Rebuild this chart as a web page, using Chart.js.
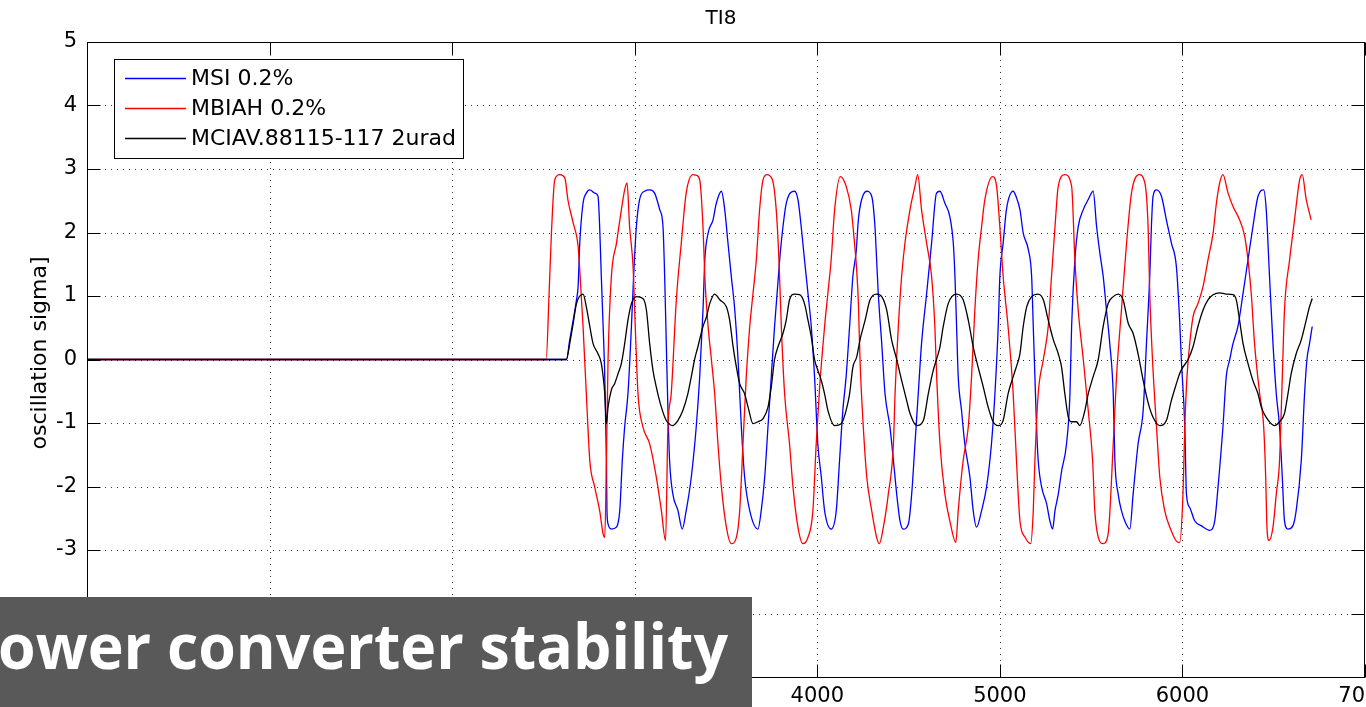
<!DOCTYPE html>
<html>
<head>
<meta charset="utf-8">
<title>TI8</title>
<script src="https://cdn.jsdelivr.net/npm/chart.js@4.4.1/dist/chart.umd.min.js"></script>
<style>
    html, body { margin: 0; padding: 0; background: #fff; overflow: hidden; }
    #plot { display: block; }
</style>
</head>
<body>
<canvas id="plot" width="1366" height="707"></canvas>
<script>
// ==================== DATA ====================
const plotTitle = 'TI8';
const yAxisLabel = 'oscillation sigma]';
const overlayText = 'ower converter stability';

const xTicks = [0, 1000, 2000, 3000, 4000, 5000, 6000, 7000];
const yTicks = [-5, -4, -3, -2, -1, 0, 1, 2, 3, 4, 5];

const seriesNames = ['MSI 0.2%', 'MBIAH 0.2%', 'MCIAV.88115-117 2urad'];
const seriesColors = ['#0000ff', '#ff0000', '#000000'];

// MSI 0.2% (blue)
const msiX = [0, 2626, 2644, 2663, 2681, 2690, 2699, 2717, 2735, 2754, 2781, 2799, 2808, 2817, 2827, 2836, 2845, 2848, 2854, 2872,
    2900, 2918, 2932, 2945, 2963, 2982, 2994, 3009, 3027, 3054, 3082, 3109, 3137, 3155, 3164, 3173, 3182, 3191, 3209, 3237,
    3260, 3282, 3310, 3337, 3356, 3374, 3384, 3402, 3429, 3447, 3475, 3493, 3511, 3529, 3548, 3566, 3584, 3602, 3630, 3675,
    3693, 3712, 3730, 3748, 3766, 3794, 3812, 3830, 3876, 3894, 3912, 3930, 3949, 3967, 3985, 4003, 4022, 4040, 4076, 4104,
    4122, 4140, 4158, 4177, 4195, 4213, 4225, 4243, 4271, 4298, 4316, 4325, 4334, 4353, 4371, 4398, 4417, 4435, 4453, 4471,
    4499, 4517, 4535, 4553, 4571, 4599, 4626, 4653, 4672, 4699, 4726, 4745, 4754, 4763, 4772, 4790, 4808, 4836, 4854, 4872,
    4900, 4927, 4954, 4973, 4991, 5000, 5018, 5036, 5073, 5091, 5110, 5128, 5156, 5174, 5183, 5192, 5201, 5210, 5229, 5256,
    5274, 5289, 5302, 5320, 5338, 5365, 5384, 5393, 5411, 5429, 5457, 5484, 5511, 5530, 5548, 5566, 5584, 5602, 5621, 5630,
    5648, 5666, 5684, 5712, 5730, 5757, 5785, 5803, 5821, 5830, 5839, 5858, 5885, 5912, 5940, 5967, 5985, 5994, 6013, 6022,
    6040, 6067, 6104, 6149, 6177, 6195, 6222, 6240, 6259, 6277, 6304, 6332, 6359, 6386, 6414, 6445, 6459, 6477, 6496, 6514,
    6532, 6547, 6559, 6578, 6605, 6623, 6651, 6669, 6682, 6696, 6711];
const msiY = [0, 0, 0.31, 0.62, 0.94, 1.15, 1.83, 2.46, 2.62, 2.67, 2.62, 2.57, 2.09, 1.31, 0.52, -0.27, -1.59, -2.38, -2.59, -2.67,
    -2.64, -2.38, -1.59, -1.06, -0.54, 0.52, 1.31, 2.09, 2.52, 2.65, 2.67, 2.62, 2.36, 2.09, 1.31, 0.25, -0.8, -1.59, -2.12, -2.38,
    -2.67, -2.38, -1.85, -1.06, -0.27, 0.78, 1.57, 1.99, 2.2, 2.46, 2.65, 2.36, 1.83, 1.31, 0.78, 0, -1.06, -1.85, -2.38, -2.67,
    -2.38, -1.85, -1.06, -0.27, 0.52, 1.57, 2.09, 2.46, 2.65, 2.52, 2.09, 1.57, 1.04, 0.52, -0.27, -1.33, -1.85, -2.38, -2.67, -2.38,
    -1.59, -0.8, -0.27, 0.52, 1.31, 1.7, 2.2, 2.52, 2.65, 2.57, 2.09, 1.57, 1.04, 0.25, -0.54, -1.06, -1.59, -2.12, -2.54, -2.67,
    -2.59, -2.12, -1.33, -0.54, 0.25, 1.04, 1.83, 2.62, 2.65, 2.46, 2.25, 1.83, 1.31, 0.52, -0.27, -0.8, -1.33, -1.85, -2.38, -2.64,
    -2.38, -2.01, -1.33, -0.54, 0.52, 1.31, 1.83, 2.36, 2.65, 2.55, 2.36, 1.99, 1.73, 1.31, 0.52, -0.27, -1.06, -1.59, -2.01, -2.27,
    -2.54, -2.67, -2.38, -2.12, -1.76, -1.33, -0.54, 0.52, 1.57, 2.09, 2.36, 2.52, 2.65, 2.09, 1.67, 1.31, 0.78, 0.25, -0.54, -1.59,
    -2.12, -2.38, -2.54, -2.67, -2.12, -1.33, -0.8, 0.25, 1.31, 2.09, 2.57, 2.67, 2.57, 2.2, 1.83, 1.46, 0.6, 0, -1.06, -2.12,
    -2.33, -2.54, -2.62, -2.69, -2.54, -2.01, -1.06, -0.27, 0, 0.25, 0.52, 1.04, 1.57, 2.09, 2.57, 2.67, 2.36, 1.31, 0.25, -0.54,
    -1.06, -1.85, -2.54, -2.67, -2.62, -2.38, -1.59, -0.54, 0, 0.25, 0.52];

// MBIAH 0.2% (red)
const mbiahX = [0, 2515, 2531, 2544, 2562, 2590, 2617, 2635, 2663, 2690, 2699, 2717, 2735, 2754, 2781, 2808, 2827, 2836, 2845, 2854,
    2872, 2900, 2927, 2945, 2958, 2972, 2991, 3003, 3018, 3045, 3082, 3118, 3146, 3169, 3182, 3200, 3228, 3255, 3282, 3319,
    3338, 3356, 3374, 3384, 3402, 3420, 3438, 3456, 3475, 3502, 3529, 3557, 3575, 3593, 3611, 3630, 3648, 3666, 3684, 3703,
    3724, 3754, 3775, 3790, 3803, 3821, 3848, 3867, 3894, 3921, 3949, 3976, 3994, 4013, 4040, 4058, 4076, 4095, 4126, 4158,
    4186, 4204, 4216, 4225, 4234, 4252, 4271, 4298, 4325, 4340, 4362, 4389, 4417, 4426, 4444, 4462, 4480, 4508, 4535, 4550,
    4571, 4599, 4626, 4644, 4654, 4672, 4699, 4726, 4759, 4772, 4799, 4827, 4845, 4863, 4881, 4900, 4918, 4960, 4982, 5000,
    5018, 5045, 5073, 5091, 5110, 5138, 5169, 5183, 5192, 5210, 5238, 5265, 5283, 5302, 5320, 5356, 5393, 5411, 5429, 5457,
    5484, 5508, 5520, 5539, 5566, 5593, 5621, 5639, 5666, 5694, 5721, 5763, 5794, 5812, 5821, 5836, 5858, 5876, 5903, 5931,
    5976, 5985, 6003, 6013, 6025, 6040, 6058, 6085, 6113, 6140, 6168, 6186, 6204, 6222, 6250, 6277, 6313, 6341, 6359, 6377,
    6395, 6423, 6445, 6456, 6463, 6474, 6496, 6514, 6532, 6547, 6559, 6587, 6614, 6642, 6656, 6678, 6705];
const mbiahY = [0, 0, 1.04, 2.0, 2.83, 2.91, 2.86, 2.5, 2.15, 1.78, 1.41, 0.52, -0.54, -1.59, -2.01, -2.38, -2.75, -2.8, -1.59, 0,
    1.3, 1.83, 2.36, 2.67, 2.78, 2.09, 1.46, 0.52, -0.54, -1.06, -1.33, -1.85, -2.38, -2.85, -1.06, -0.54, 0.94, 1.83, 2.62, 2.91,
    2.9, 2.83, 2.09, 1.31, 0.52, 0, -0.54, -1.33, -2.01, -2.64, -2.9, -2.8, -2.38, -1.33, -0.27, 0.52, 1.04, 1.57, 2.36, 2.83,
    2.91, 2.83, 2.36, 1.57, 0.52, -0.54, -1.33, -2.01, -2.64, -2.9, -2.8, -2.38, -1.33, -0.43, 0.52, 1.04, 1.57, 2.36, 2.88, 2.73,
    2.36, 1.83, 1.4, 0.9, 0, -1.06, -1.85, -2.38, -2.8, -2.9, -2.64, -2.12, -1.33, -0.54, 0.52, 1.31, 1.83, 2.36, 2.73, 2.91,
    2.36, 1.83, 1.31, 0.52, -0.27, -1.33, -2.12, -2.54, -2.88, -2.38, -1.59, -1.06, -0.27, 0.78, 1.57, 2.09, 2.52, 2.88, 2.73, 2.09,
    1.31, 0.52, -0.54, -1.59, -2.54, -2.8, -2.9, -2.38, -1.59, -0.54, 0, 0.52, 1.31, 2.09, 2.73, 2.91, 2.73, 1.57, 0.78, 0,
    -0.8, -1.59, -2.38, -2.8, -2.9, -2.75, -1.33, -0.27, 0.78, 1.83, 2.62, 2.91, 2.78, 2.09, 1.04, 0, -1.06, -1.85, -2.38, -2.64,
    -2.88, -2.88, -2.12, -1.06, -0.27, 0.25, 0.67, 0.88, 1.15, 1.57, 1.99, 2.46, 2.78, 2.91, 2.62, 2.41, 2.2, 1.94, 1.57, 1.04,
    0.25, -0.54, -1.06, -1.85, -2.64, -2.85, -2.64, -2.12, -1.59, -0.27, 0.78, 1.57, 2.2, 2.83, 2.91, 2.52, 2.2];

// MCIAV.88115-117 2urad (black)
const mciavX = [0, 2626, 2644, 2663, 2681, 2717, 2735, 2754, 2772, 2799, 2817, 2836, 2845, 2854, 2872, 2890, 2909, 2927, 2945, 2963,
    2982, 3009, 3045, 3064, 3082, 3100, 3118, 3146, 3173, 3209, 3237, 3264, 3291, 3310, 3328, 3346, 3374, 3393, 3411, 3438,
    3466, 3502, 3520, 3539, 3557, 3575, 3602, 3621, 3648, 3675, 3703, 3730, 3748, 3766, 3785, 3812, 3830, 3848, 3876, 3903,
    3930, 3949, 3967, 3985, 4003, 4022, 4040, 4058, 4095, 4131, 4158, 4177, 4195, 4216, 4234, 4262, 4289, 4325, 4353, 4380,
    4407, 4435, 4462, 4489, 4508, 4544, 4581, 4608, 4635, 4653, 4672, 4690, 4717, 4763, 4799, 4827, 4854, 4881, 4909, 4936,
    4963, 4991, 5018, 5045, 5073, 5092, 5110, 5128, 5147, 5174, 5210, 5238, 5265, 5293, 5320, 5338, 5356, 5375, 5393, 5420,
    5438, 5466, 5484, 5511, 5539, 5566, 5593, 5621, 5648, 5675, 5703, 5730, 5757, 5785, 5812, 5839, 5876, 5912, 5940, 5967,
    5985, 6003, 6031, 6058, 6085, 6113, 6140, 6168, 6204, 6240, 6277, 6295, 6313, 6332, 6359, 6386, 6414, 6432, 6459, 6505,
    6532, 6559, 6578, 6596, 6623, 6651, 6678, 6696, 6711];
const mciavY = [0, 0, 0.25, 0.57, 0.88, 1.03, 0.83, 0.52, 0.25, 0.09, -0.06, -0.54, -1.01, -0.75, -0.48, -0.38, -0.22, -0.06, 0.25, 0.62,
    0.88, 0.99, 0.96, 0.78, 0.25, -0.17, -0.43, -0.75, -0.96, -1.04, -0.96, -0.8, -0.54, -0.27, 0, 0.2, 0.52, 0.67, 0.88, 1.03,
    0.94, 0.83, 0.62, 0.2, -0.12, -0.38, -0.54, -0.75, -1.01, -0.98, -0.93, -0.75, -0.43, 0, 0.2, 0.41, 0.62, 0.94, 1.03, 1.02,
    0.88, 0.62, 0.36, 0, -0.17, -0.33, -0.54, -0.8, -1.04, -1.01, -0.8, -0.54, -0.12, 0.04, 0.31, 0.62, 0.94, 1.03, 0.99, 0.78,
    0.31, 0, -0.33, -0.64, -0.85, -1.04, -0.96, -0.54, -0.17, 0, 0.2, 0.52, 0.88, 1.03, 0.94, 0.62, 0.2, -0.12, -0.43, -0.75,
    -0.98, -1.04, -0.96, -0.54, -0.27, -0.1, 0.09, 0.52, 0.83, 0.99, 1.03, 0.94, 0.62, 0.31, 0.09, -0.12, -0.54, -0.91, -0.98, -0.98,
    -1.04, -0.8, -0.54, -0.27, 0, 0.52, 0.88, 0.99, 1.03, 0.94, 0.57, 0.41, 0.09, -0.33, -0.68, -0.91, -1.04, -0.96, -0.64, -0.38,
    -0.22, -0.12, 0, 0.2, 0.52, 0.78, 0.94, 1.02, 1.05, 1.03, 1.02, 0.94, 0.62, 0.25, -0.06, -0.33, -0.54, -0.75, -0.91, -1.04,
    -0.98, -0.85, -0.54, -0.22, 0.09, 0.31, 0.62, 0.83, 0.96];

// ==================== HELPERS ====================
const FONT = "'DejaVu Sans', 'Liberation Sans', Arial, sans-serif";

function toPoints(xs, ys) {
    return xs.map((x, i) => ({ x: x, y: ys[i] }));
}

// MATLAB-like frame: dotted grid, box, inner ticks, legend, titles, slide overlay
const matlabFrame = {
    id: 'matlabFrame',
    beforeDraw: function(chart) {
        const c = chart.ctx;
        c.save();
        c.fillStyle = '#ffffff';
        c.fillRect(0, 0, chart.width, chart.height);
        c.restore();
    },
    beforeDatasetsDraw: function(chart) {
        const c = chart.ctx;
        const a = chart.chartArea;
        const xs = chart.scales.x, ys = chart.scales.y;
        c.save();
        c.strokeStyle = 'rgba(0,0,0,0.8)';
        c.lineWidth = 1;
        c.setLineDash([1, 5]);
        xTicks.forEach(v => {
            if (v === xs.min || v === xs.max) return;
            const px = Math.round(xs.getPixelForValue(v)) + 0.5;
            c.beginPath(); c.moveTo(px, a.top); c.lineTo(px, a.bottom); c.stroke();
        });
        yTicks.forEach(v => {
            if (v === ys.min || v === ys.max) return;
            const py = Math.round(ys.getPixelForValue(v)) + 0.5;
            c.beginPath(); c.moveTo(a.left, py); c.lineTo(a.right, py); c.stroke();
        });
        c.restore();
    },
    afterDraw: function(chart) {
        const c = chart.ctx;
        const a = chart.chartArea;
        const xs = chart.scales.x, ys = chart.scales.y;
        const L = Math.round(a.left) + 0.5, R = Math.round(a.right) - 0.5;
        const T = Math.round(a.top) + 0.5, B = Math.round(a.bottom) + 0.5;
        const tickLen = 13;

        c.save();
        // axes box
        c.strokeStyle = '#000';
        c.lineWidth = 1;
        c.setLineDash([]);
        c.strokeRect(L, T, R - L, B - T);

        // inner tick marks on all four sides
        c.beginPath();
        xTicks.forEach(v => {
            const px = Math.round(xs.getPixelForValue(v)) + 0.5;
            c.moveTo(px, B); c.lineTo(px, B - tickLen);
            c.moveTo(px, T); c.lineTo(px, T + tickLen);
        });
        yTicks.forEach(v => {
            const py = Math.round(ys.getPixelForValue(v)) + 0.5;
            c.moveTo(L, py); c.lineTo(L + tickLen, py);
            c.moveTo(R, py); c.lineTo(R - tickLen, py);
        });
        c.stroke();

        // title
        c.fillStyle = '#000';
        c.font = '20px ' + FONT;
        c.textAlign = 'center';
        c.textBaseline = 'middle';
        c.fillText(plotTitle, 721, 19);

        // y axis label
        c.save();
        c.font = '22px ' + FONT;
        c.translate(40, 353);
        c.rotate(-Math.PI / 2);
        c.fillText(yAxisLabel, 0, 0);
        c.restore();

        // legend box
        const lg = { x: 114.5, y: 59.5, w: 349, h: 99 };
        c.fillStyle = '#fff';
        c.fillRect(lg.x, lg.y, lg.w, lg.h);
        c.strokeStyle = '#000';
        c.strokeRect(lg.x, lg.y, lg.w, lg.h);
        c.font = '22px ' + FONT;
        c.textAlign = 'left';
        c.textBaseline = 'middle';
        seriesNames.forEach((name, i) => {
            const ry = 78.5 + i * 30;
            c.strokeStyle = seriesColors[i];
            c.lineWidth = 1.3;
            c.beginPath(); c.moveTo(125, ry); c.lineTo(186, ry); c.stroke();
            c.fillStyle = '#000';
            c.fillText(name, 191, ry + 1);
        });

        // slide overlay (title bar of the presentation, cut by the screenshot)
        c.fillStyle = '#595959';
        c.fillRect(0, 597, 752, chart.height - 597);
        c.fillStyle = '#ffffff';
        c.font = "bold 62px 'Open Sans', 'DejaVu Sans', sans-serif";
        c.textAlign = 'left';
        c.textBaseline = 'alphabetic';
        const w = c.measureText(overlayText).width;
        const targetW = 730;
        c.save();
        c.translate(-2, 669);
        c.scale(targetW / w, 1);
        c.fillText(overlayText, 0, 0);
        c.restore();
        c.restore();
    }
};

// ==================== CHART ====================
const datasets = [
    { label: seriesNames[0], data: toPoints(msiX, msiY), borderColor: seriesColors[0], order: 3 },
    { label: seriesNames[1], data: toPoints(mbiahX, mbiahY), borderColor: seriesColors[1], order: 2 },
    { label: seriesNames[2], data: toPoints(mciavX, mciavY), borderColor: seriesColors[2], order: 1 }
].map(d => Object.assign(d, {
    borderWidth: 1.3,
    pointRadius: 0,
    cubicInterpolationMode: 'monotone',
    fill: false
}));

new Chart(document.getElementById('plot'), {
    type: 'line',
    data: { datasets: datasets },
    options: {
        responsive: false,
        animation: false,
        events: [],
        devicePixelRatio: 1,
        layout: { padding: { top: 42, right: 1, left: 0, bottom: 0 } },
        plugins: {
            legend: { display: false },
            tooltip: { enabled: false },
            title: { display: false }
        },
        scales: {
            x: {
                type: 'linear',
                min: 0,
                max: 7000,
                grid: { display: false, drawTicks: false },
                border: { display: false },
                afterBuildTicks: s => { s.ticks = xTicks.map(v => ({ value: v })); },
                afterFit: s => { s.height = 30; s.paddingLeft = 0; s.paddingRight = 0; },
                ticks: {
                    color: '#000',
                    padding: 7,
                    maxRotation: 0,
                    autoSkip: false,
                    font: { family: FONT, size: 21 },
                    callback: v => String(v)
                }
            },
            y: {
                type: 'linear',
                min: -5,
                max: 5,
                grid: { display: false, drawTicks: false },
                border: { display: false },
                afterBuildTicks: s => { s.ticks = yTicks.map(v => ({ value: v })); },
                afterFit: s => { s.width = 87; },
                ticks: {
                    color: '#000',
                    padding: 10,
                    autoSkip: false,
                    font: { family: FONT, size: 21 },
                    callback: v => String(v)
                }
            }
        }
    },
    plugins: [matlabFrame]
});
</script>
</body>
</html>
